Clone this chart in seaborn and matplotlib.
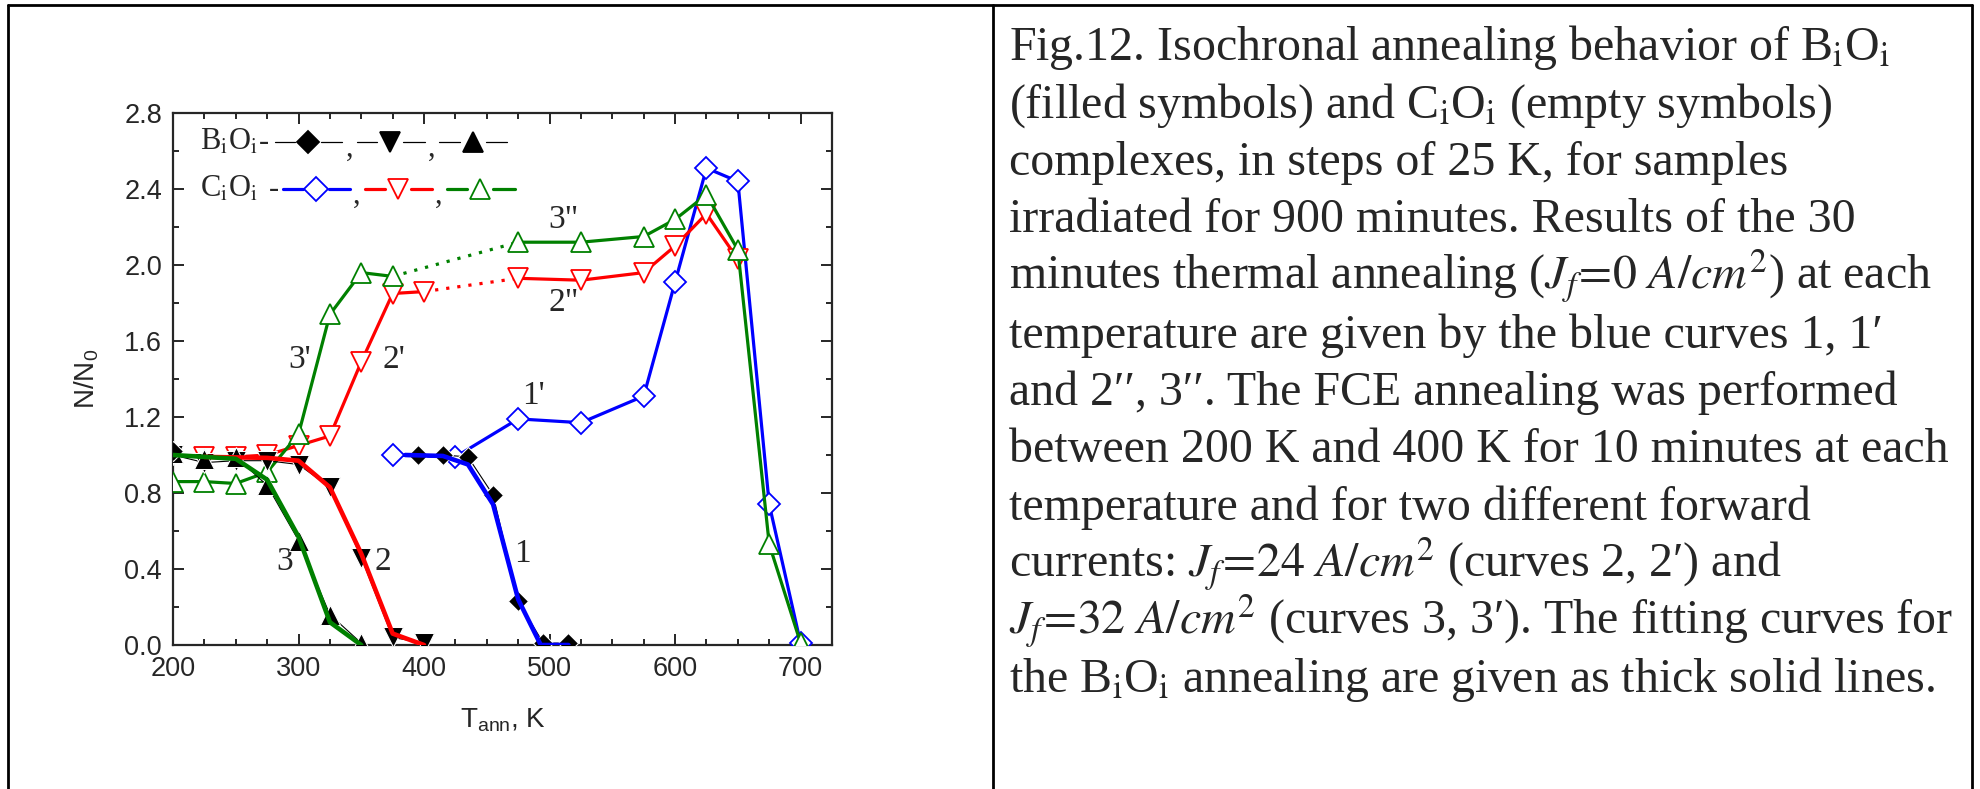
import numpy as np
import pandas as pd
import seaborn as sns
import matplotlib.pyplot as plt
from matplotlib.lines import Line2D
from matplotlib.ticker import MultipleLocator

# ---- data ----
# B_iO_i (filled black symbols)
bo1_T = [395, 415, 435, 455, 475, 495, 515]
bo1_N = [1.00, 1.00, 0.99, 0.79, 0.23, 0.01, 0.01]
bo2_T = [200, 225, 250, 275, 300, 325, 350, 375, 400]
bo2_N = [1.00, 0.96, 0.97, 0.97, 0.95, 0.83, 0.46, 0.04, 0.01]
bo3_T = [200, 225, 250, 275, 300, 325, 350]
bo3_N = [1.01, 0.98, 0.99, 0.84, 0.55, 0.16, 0.01]
bo_start_T = [200]
bo_start_N = [1.02]

# fitting curves (thick)
fit1_T = [385, 415, 435, 455, 475, 493, 515]
fit1_N = [1.00, 0.995, 0.95, 0.74, 0.24, 0.0, 0.0]
fit2_T = [225, 275, 300, 325, 350, 375, 400]
fit2_N = [0.99, 0.985, 0.97, 0.83, 0.48, 0.06, 0.0]
fit3_T = [200, 250, 275, 300, 325, 350]
fit3_N = [1.00, 0.98, 0.87, 0.57, 0.12, 0.0]

# C_iO_i (open symbols)
co1_T = [375, 425, 475, 525, 575, 600, 625, 650, 675, 700]
co1_N = [1.00, 0.99, 1.19, 1.17, 1.31, 1.91, 2.51, 2.44, 0.74, 0.01]
co2a_T = [225, 250, 275, 300, 325, 350, 375, 400]
co2a_N = [0.99, 0.99, 1.00, 1.05, 1.10, 1.49, 1.85, 1.86]
co2b_T = [475, 525, 575, 600, 625, 650]
co2b_N = [1.93, 1.92, 1.96, 2.10, 2.27, 2.03]
co3a_T = [200, 225, 250, 275, 300, 325, 350, 375]
co3a_N = [0.86, 0.86, 0.85, 0.91, 1.11, 1.74, 1.96, 1.94]
co3b_T = [475, 525, 575, 600, 625, 650, 675, 700]
co3b_N = [2.12, 2.12, 2.15, 2.24, 2.37, 2.08, 0.53, 0.01]

curve_labels = ["1", "2", "3", "1'", "2'", "3'", '2"', '3"']
label_T = [478, 367, 289, 487, 376, 301, 511, 511]
label_N = [0.48, 0.44, 0.44, 1.31, 1.50, 1.50, 1.80, 2.24]

caption = [
    r"Fig.12. Isochronal annealing behavior of B$_\mathrm{i}$O$_\mathrm{i}$",
    r"(filled symbols) and C$_\mathrm{i}$O$_\mathrm{i}$ (empty symbols)",
    "complexes, in steps of 25 K, for samples",
    "irradiated for 900 minutes. Results of the 30",
    r"minutes thermal annealing ($\mathit{J_f\!=\!0\ A/cm^2}$) at each",
    "temperature are given by the blue curves 1, 1\u2032",
    "and 2\u2032\u2032, 3\u2032\u2032. The FCE annealing was performed",
    "between 200 K and 400 K for 10 minutes at each",
    "temperature and for two different forward",
    "currents: $\\mathit{J_f\\!=\\!24\\ A/cm^2}$ (curves 2, 2\u2032) and",
    "$\\mathit{J_f\\!=\\!32\\ A/cm^2}$ (curves 3, 3\u2032). The fitting curves for",
    r"the B$_\mathrm{i}$O$_\mathrm{i}$ annealing are given as thick solid lines.",
]

BLUE, RED, GREEN = "#0000ff", "#ff0000", "#008000"

sns.set_style("ticks")
plt.rcParams["font.family"] = ["Liberation Sans", "DejaVu Sans"]
plt.rcParams["mathtext.fontset"] = "custom"
plt.rcParams["mathtext.rm"] = "Liberation Sans"
plt.rcParams["mathtext.it"] = "Liberation Sans:italic"
SERIF = ["Liberation Serif", "DejaVu Serif"]

fig = plt.figure(figsize=(19.8, 7.89), dpi=100)
ax = fig.add_axes([173 / 1980, 1 - 645 / 789, 659 / 1980, 532 / 789])


def draw(T, N, **kw):
    df = pd.DataFrame({"T": T, "N": N})
    sns.lineplot(data=df, x="T", y="N", ax=ax, estimator=None, sort=False,
                 legend=False, **kw)


open_kw = dict(lw=2.3, mfc="white", mew=1.3, zorder=3)
# C_iO_i curves
draw(co1_T, co1_N, color=BLUE, marker="D", ms=11, mec=BLUE, **open_kw)
draw(co2a_T, co2a_N, color=RED, marker="v", ms=14, mec=RED, **open_kw)
draw(co2b_T, co2b_N, color=RED, marker="v", ms=14, mec=RED, **open_kw)
draw([co2a_T[-1], co2b_T[0]], [co2a_N[-1], co2b_N[0]], color=RED, lw=2.3,
     linestyle=(0, (1, 2.5)), zorder=2)
draw(co3a_T, co3a_N, color=GREEN, marker="^", ms=14, mec=GREEN, **open_kw)
draw(co3b_T, co3b_N, color=GREEN, marker="^", ms=14, mec=GREEN, **open_kw)
draw([co3a_T[-1], co3b_T[0]], [co3a_N[-1], co3b_N[0]], color=GREEN, lw=2.3,
     linestyle=(0, (1, 2.5)), zorder=2)

# B_iO_i data (thin black lines, filled markers)
draw(bo1_T, bo1_N, color="black", lw=0.8, marker="D", ms=10.5, zorder=4)
draw(bo2_T, bo2_N, color="black", lw=0.8, marker="v", ms=14, zorder=4)
draw(bo3_T, bo3_N, color="black", lw=0.8, marker="^", ms=14, zorder=4)
draw(bo_start_T, bo_start_N, color="black", lw=0, marker="D", ms=10.5,
     zorder=4)

# thick fitting curves
draw(fit1_T, fit1_N, color=BLUE, lw=3.3, zorder=5)
draw(fit2_T, fit2_N, color=RED, lw=3.3, zorder=5)
draw(fit3_T, fit3_N, color=GREEN, lw=3.3, zorder=5)

for s, t, n in zip(curve_labels, label_T, label_N):
    ax.text(t, n, s, fontsize=24, family=SERIF, ha="center", va="center")


# legend drawn by hand in axes fraction
def leg_item(x0, x1, xm, y, color, lw, marker, ms, filled):
    g = 0.02
    for a, b in [(x0, xm - g), (xm + g, x1)]:
        ax.add_line(Line2D([a, b], [y, y], color=color, lw=lw,
                           transform=ax.transAxes, clip_on=False))
    ax.add_line(Line2D([xm], [y], color=color, marker=marker, ms=ms,
                       mfc=color if filled else "none", mec=color, mew=1.3,
                       lw=0, transform=ax.transAxes, clip_on=False))


y1, y2 = 0.945, 0.857
ax.text(0.041, y1, r"B$_\mathrm{i}$O$_\mathrm{i}$", transform=ax.transAxes,
        fontsize=22, family=SERIF, math_fontfamily="stix", va="center")
ax.text(0.13, y1, "-", transform=ax.transAxes, fontsize=22, family=SERIF,
        va="center")
leg_item(0.155, 0.256, 0.205, y1, "black", 0.9, "D", 11, True)
leg_item(0.279, 0.382, 0.329, y1, "black", 0.9, "v", 14, True)
leg_item(0.404, 0.507, 0.455, y1, "black", 0.9, "^", 14, True)
ax.text(0.041, y2, r"C$_\mathrm{i}$O$_\mathrm{i}$", transform=ax.transAxes,
        fontsize=22, family=SERIF, math_fontfamily="stix", va="center")
ax.text(0.145, y2, "-", transform=ax.transAxes, fontsize=22, family=SERIF,
        va="center")
leg_item(0.167, 0.269, 0.217, y2, BLUE, 2.3, "D", 12, False)
leg_item(0.291, 0.393, 0.341, y2, RED, 2.3, "v", 14, False)
leg_item(0.416, 0.519, 0.466, y2, GREEN, 2.3, "^", 14, False)
for xc, yc in [(0.262, y1), (0.387, y1), (0.273, y2), (0.398, y2)]:
    ax.text(xc, yc - 0.012, ",", transform=ax.transAxes, fontsize=22,
            family=SERIF, va="center")

# axes styling
ax.set_xlim(200, 725)
ax.set_ylim(0, 2.8)
ax.xaxis.set_major_locator(MultipleLocator(100))
ax.xaxis.set_minor_locator(MultipleLocator(25))
ax.yaxis.set_major_locator(MultipleLocator(0.4))
ax.yaxis.set_minor_locator(MultipleLocator(0.2))
ax.yaxis.set_major_formatter(lambda v, p: f"{v:.1f}")
ax.tick_params(which="both", direction="in", top=True, right=True,
               width=1.4, labelsize=19.5)
ax.tick_params(which="major", length=8, pad=8)
ax.tick_params(which="minor", length=4)
for sp in ax.spines.values():
    sp.set_linewidth(1.6)
    sp.set_visible(True)
ax.set_xlabel(r"T$_\mathrm{ann}$, K", fontsize=20)
ax.set_ylabel(r"N/N$_\mathrm{0}$", fontsize=20)
ax.xaxis.set_label_coords(0.5, -0.115)
ax.yaxis.set_label_coords(-0.11, 0.5)

# table frame around plot and caption
frame = dict(color="black", lw=2.0, transform=fig.transFigure)
fig.add_artist(Line2D([8 / 1980, 1972 / 1980], [1 - 5 / 789] * 2, **frame))
fig.add_artist(Line2D([8 / 1980] * 2, [0, 1 - 5 / 789], **frame))
fig.add_artist(Line2D([993 / 1980] * 2, [0, 1 - 5 / 789], **frame))
fig.add_artist(Line2D([1972 / 1980] * 2, [0, 1 - 5 / 789], **frame))

# caption text
for i, line in enumerate(caption):
    fig.text(1009 / 1980, 1 - (60 + i * 57.5) / 789, line, fontsize=34.5,
             family=SERIF, math_fontfamily="stix", va="baseline", ha="left")

fig.savefig("out.png", dpi=100)
